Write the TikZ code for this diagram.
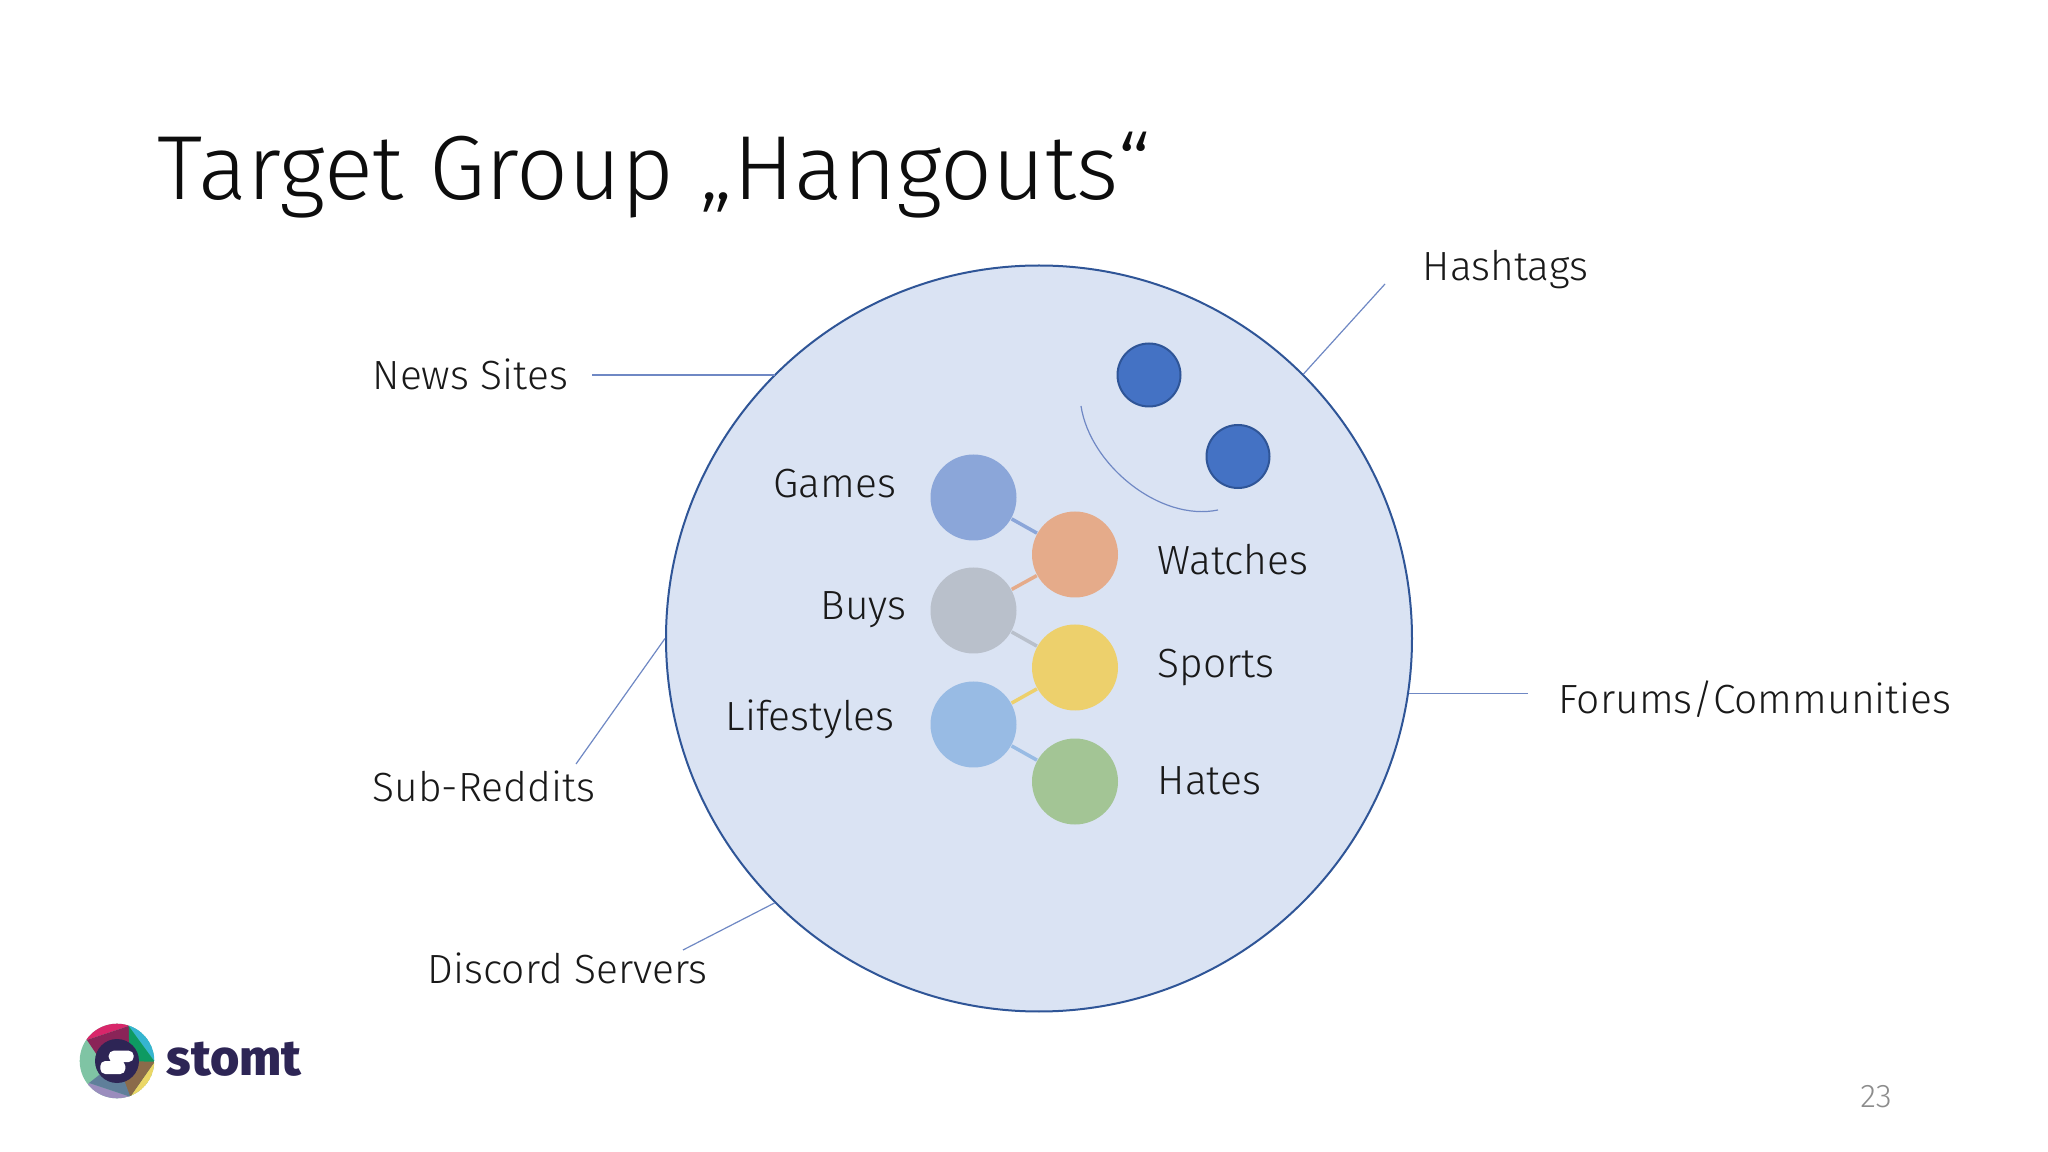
\documentclass[tikz,border=0pt]{standalone}
\usepackage{fontspec}
\setmainfont{Fira Sans Light}
\newfontfamily\logofont{Fira Sans ExtraBold}
\usepackage{tikz}
\definecolor{hubfill}{HTML}{DAE3F3}
\definecolor{hubline}{HTML}{2F5597}
\definecolor{dotfill}{HTML}{4472C4}
\definecolor{leader}{HTML}{6F88C4}
\definecolor{games}{HTML}{8BA6D9}
\definecolor{watches}{HTML}{E5AB8A}
\definecolor{buys}{HTML}{B9C0CB}
\definecolor{sports}{HTML}{EDD06C}
\definecolor{lifestyles}{HTML}{98BBE4}
\definecolor{hates}{HTML}{A3C595}
\definecolor{logoink}{HTML}{2D2555}
\definecolor{logored}{HTML}{D8266A}
\definecolor{logowine}{HTML}{8A2458}
\definecolor{logoteal}{HTML}{35B5D0}
\definecolor{logogreen}{HTML}{0E9A62}
\definecolor{logoyellow}{HTML}{EBD766}
\definecolor{logobrown}{HTML}{8B6B4A}
\definecolor{logolilac}{HTML}{9A8DBD}
\definecolor{logoslate}{HTML}{5F7F9A}
\definecolor{logomint}{HTML}{7FC4A4}
\tikzset{
 topic/.style={circle, inner sep=0cm, minimum size=0.86cm},
 dot/.style={circle, inner sep=0cm, minimum size=0.63cm, fill=dotfill, draw=hubline, line width=0.02cm},
 lab/.style={anchor=base west, inner sep=0cm, font=\fontsize{11.6}{14}\selectfont, text=black!90},
 leaderline/.style={leader, line width=0.012cm},
 link/.style={line width=0.035cm}
}

\begin{document}
\begin{tikzpicture}
\useasboundingbox (0,-11.52) rectangle (20.48,0);
\fill[white] (0,-11.52) rectangle (20.48,0);

\draw (1.57,-2.00) node[anchor=base west, inner sep=0cm, font=\fontsize{25.9}{30}\selectfont, text=black!95] (title) {Target Group „Hangouts“};

\draw (10.39,-6.385) node[circle, inner sep=0cm, minimum size=7.46cm, fill=hubfill, draw=hubline, line width=0.02cm] (hub) {};

\draw (9.735,-4.975) node[topic, fill=games] (g) {};
\draw (10.75,-5.545) node[topic, fill=watches] (w) {};
\draw (9.735,-6.105) node[topic, fill=buys] (b) {};
\draw (10.75,-6.675) node[topic, fill=sports] (s) {};
\draw (9.735,-7.245) node[topic, fill=lifestyles] (l) {};
\draw (10.75,-7.815) node[topic, fill=hates] (h) {};

\draw[link, games] (g) -- (w);
\draw[link, watches] (w) -- (b);
\draw[link, buys] (b) -- (s);
\draw[link, sports] (s) -- (l);
\draw[link, lifestyles] (l) -- (h);

\draw (11.49,-3.75) node[dot] (d1) {};
\draw (12.38,-4.565) node[dot] (d2) {};
\coordinate (smileA) at (10.81,-4.06);
\coordinate (smileB) at (12.18,-5.10);
\draw[leaderline] (smileA) .. controls (10.90,-4.65) and (11.60,-5.22) .. (smileB);

\draw (3.72,-3.90) node[lab] (news) {News Sites};
\draw (14.22,-2.81) node[lab] (tags) {Hashtags};
\draw (15.58,-7.14) node[lab] (forums) {Forums/Communities};
\draw (3.72,-8.01) node[lab] (reddit) {Sub-Reddits};
\draw (4.27,-9.83) node[lab] (discord) {Discord Servers};
\draw (7.73,-4.98) node[lab] (gl) {Games};
\draw (8.20,-6.20) node[lab] (bl) {Buys};
\draw (7.25,-7.31) node[lab] (ll) {Lifestyles};
\draw (11.57,-5.74) node[lab] (wl) {Watches};
\draw (11.57,-6.78) node[lab] (sl) {Sports};
\draw (11.57,-7.95) node[lab] (hl) {Hates};

\coordinate (newsEnd) at (5.92,-3.75);
\coordinate (newsHub) at (7.75,-3.75);
\coordinate (tagsEnd) at (13.85,-2.84);
\coordinate (forumsEnd) at (15.28,-6.935);
\coordinate (forumsHub) at (14.09,-6.935);
\coordinate (redditEnd) at (5.76,-7.64);
\coordinate (discordEnd) at (6.83,-9.50);
\draw[leaderline] (newsEnd) -- (newsHub);
\draw[leaderline] (tagsEnd) -- (hub.45);
\draw[leaderline] (forumsEnd) -- (forumsHub);
\draw[leaderline] (redditEnd) -- (hub.180);
\draw[leaderline] (discordEnd) -- (hub.225);

\draw (18.76,-10.97) node[inner sep=0cm, font=\fontsize{9.3}{12}\selectfont, text=black!45] (page) {23};

\begin{scope}[shift={(1.17,-10.61)}]
\clip (0,0) circle (0.373);
\fill[logomint] (0,0) circle (0.373);
\fill[logored] (-0.30,0.21) -- (0.117,0.35) -- (0.1,0.5) -- (-0.5,0.5) -- cycle;
\fill[logowine] (-0.30,0.21) -- (0.117,0.35) -- (0.16,0.1) -- (-0.16,0) -- cycle;
\fill[logoteal] (0.117,0.35) -- (0.377,-0.007) -- (0.5,0.5) -- (0.1,0.5) -- cycle;
\fill[logogreen] (0.117,0.35) -- (0.377,-0.007) -- (0.133,-0.357) -- cycle;
\fill[logoyellow] (0.377,-0.007) -- (0.133,-0.357) -- (0.2,-0.5) -- (0.5,-0.5) -- cycle;
\fill[logobrown] (0.133,-0.357) -- (0.377,-0.007) -- (0,0) -- (-0.24,-0.2) -- cycle;
\fill[logolilac] (-0.28,-0.22) -- (0.133,-0.357) -- (0.2,-0.5) -- (-0.5,-0.5) -- cycle;
\fill[logoslate] (-0.28,-0.22) -- (0,0) -- (0.133,-0.357) -- cycle;
\fill[logoink] (0,0) circle (0.22);
\fill[white, rounded corners=0.05cm] (-0.083,0.103) rectangle (0.167,-0.01);
\fill[white, rounded corners=0.05cm] (-0.167,0.0) rectangle (0.083,-0.13);
\end{scope}
\draw (1.66,-10.75) node[anchor=base west, inner sep=0cm, font=\logofont\fontsize{14.3}{16}\selectfont, text=logoink] (brand) {stomt};

\end{tikzpicture}
\end{document}
